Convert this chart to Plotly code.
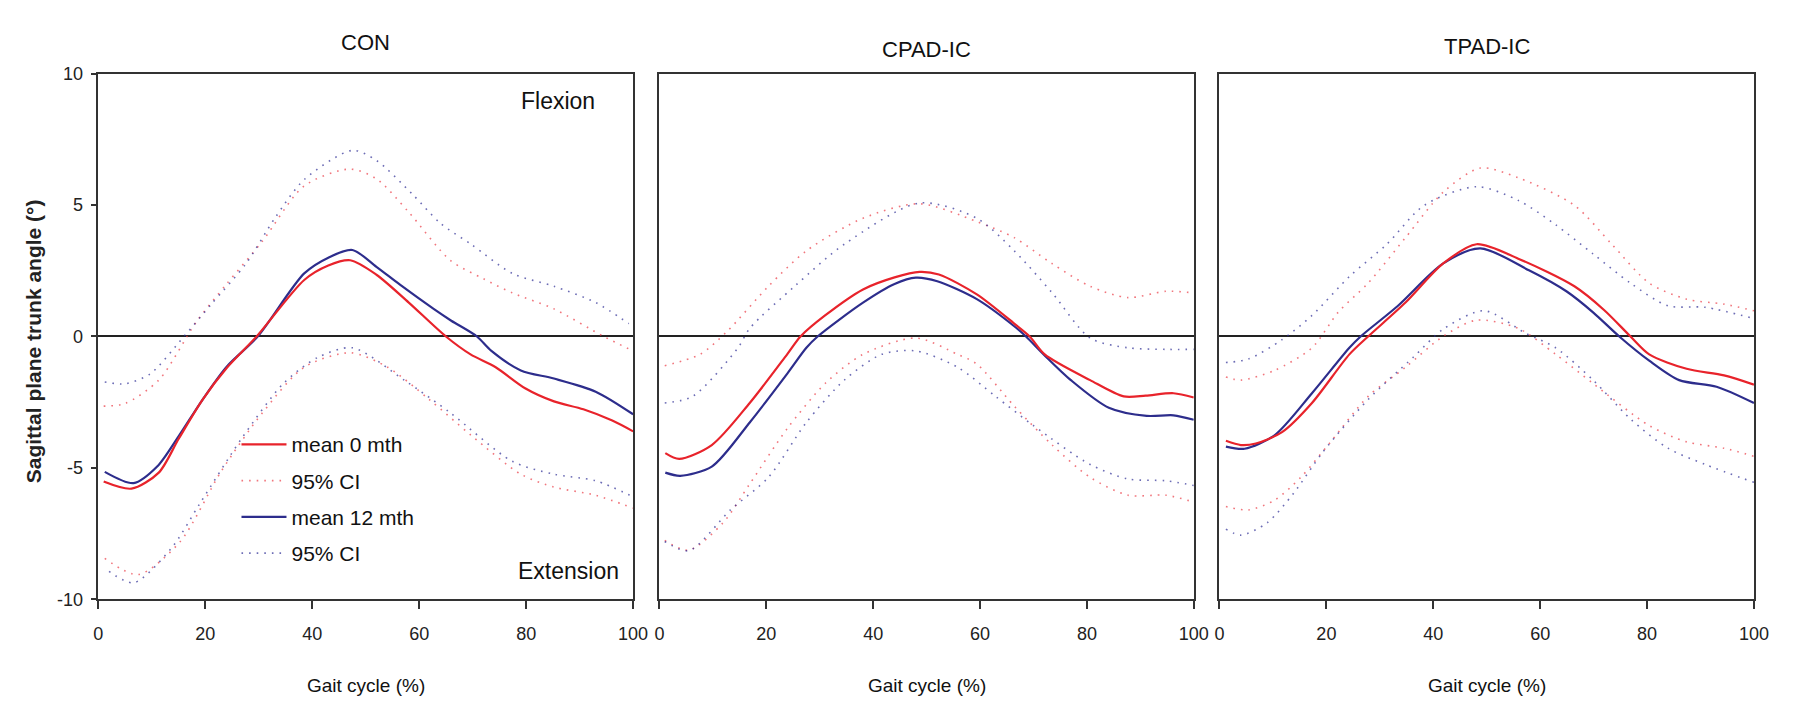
import plotly.graph_objects as go

# ---------------- data ----------------
panels = ["CON", "CPAD-IC", "TPAD-IC"]
x_ticks = [0, 20, 40, 60, 80, 100]
y_ticks = [10, 5, 0, -5, -10]
y_ticklabels = ["10", "5", "0", "-5", "-10"]

# CON
con_m0_x = [1, 6.2, 11.3, 15, 19.5, 24, 29.6, 38.5, 43, 47.1, 52, 58, 65, 69.6, 74.3, 79.8, 85.2, 90.7, 96.1, 100]
con_m0_y = [-5.52, -5.79, -5.18, -3.9, -2.4, -1.2, 0, 2.15, 2.7, 2.9, 2.35, 1.3, 0, -0.68, -1.17, -1.97, -2.47, -2.77, -3.2, -3.61]
con_m12_x = [1.2, 6.6, 11, 15, 19.5, 24, 29.8, 38.5, 43, 47.5, 52, 56.4, 62.7, 66, 70.8, 73.5, 79, 85.2, 93, 100]
con_m12_y = [-5.15, -5.58, -4.95, -3.8, -2.4, -1.15, 0, 2.4, 3.0, 3.29, 2.65, 1.97, 1.05, 0.6, 0, -0.55, -1.29, -1.6, -2.1, -2.96]
con_ci0_up_x = [1, 5, 11.3, 18.3, 24, 30.7, 38.5, 47, 52, 58, 65.8, 72, 77.4, 85.2, 94.5, 100]
con_ci0_up_y = [-2.65, -2.55, -1.66, 0.55, 2.0, 3.63, 5.73, 6.37, 6.0, 4.74, 2.9, 2.2, 1.66, 1.05, 0, -0.55]
con_ci0_lo_x = [1.2, 7.4, 15.2, 23, 30.7, 38.5, 47.1, 54.1, 61.9, 69.7, 79, 85.2, 93, 100]
con_ci0_lo_y = [-8.44, -9.06, -7.83, -5.12, -2.9, -1.17, -0.62, -1.17, -2.4, -3.76, -5.24, -5.73, -6.04, -6.53]
con_ci12_up_x = [1.2, 5, 9.7, 16, 21, 27.6, 33, 38.5, 47.5, 52, 58.7, 64, 69.7, 77.4, 85.2, 93, 99.2]
con_ci12_up_y = [-1.73, -1.8, -1.42, 0, 1.2, 2.77, 4.5, 5.97, 7.08, 6.7, 5.42, 4.3, 3.51, 2.4, 1.91, 1.29, 0.49]
con_ci12_lo_x = [2, 6.6, 13.6, 19, 26.8, 34.6, 41, 47.5, 57.2, 65.8, 77.4, 85.2, 93, 100]
con_ci12_lo_y = [-8.94, -9.37, -8.07, -6.35, -3.88, -1.79, -0.8, -0.43, -1.66, -2.9, -4.75, -5.24, -5.49, -6.1]

# CPAD-IC
cpad_m0_x = [1.1, 3.7, 9.8, 16.9, 23.9, 26.4, 31, 38.1, 44, 48.7, 52.3, 59.4, 66.4, 69.3, 72.1, 80.6, 86.9, 91, 96.2, 100]
cpad_m0_y = [-4.44, -4.66, -4.13, -2.53, -0.68, 0, 0.8, 1.79, 2.25, 2.46, 2.36, 1.6, 0.49, 0, -0.68, -1.66, -2.28, -2.25, -2.16, -2.32]
cpad_m12_x = [1.1, 3.9, 9.8, 16.9, 23.9, 27.5, 29.6, 38.1, 44, 48, 52, 59.4, 66.4, 68.6, 72, 77, 84.1, 91.2, 96.2, 100]
cpad_m12_y = [-5.18, -5.3, -4.95, -3.27, -1.42, -0.43, 0, 1.29, 2.0, 2.24, 2.1, 1.42, 0.39, 0, -0.7, -1.66, -2.71, -3.02, -3.0, -3.17]
cpad_ci0_up_x = [1, 7.6, 12.6, 20.4, 27.5, 38.1, 48.7, 59.4, 66.4, 73.5, 80.6, 87.7, 94.8, 100]
cpad_ci0_up_y = [-1.11, -0.68, 0.18, 1.91, 3.26, 4.5, 5.05, 4.37, 3.76, 2.77, 1.91, 1.48, 1.72, 1.66]
cpad_ci0_lo_x = [1, 5.5, 11.9, 16.9, 23.9, 31, 38.1, 48, 55.8, 59.4, 66.4, 73.5, 80.6, 87.7, 94.8, 100]
cpad_ci0_lo_y = [-7.76, -8.13, -7.09, -5.61, -3.51, -1.79, -0.68, -0.06, -0.68, -1.05, -2.65, -4.13, -5.36, -6.04, -6.04, -6.3]
cpad_ci12_up_x = [1, 6.2, 14.7, 16.9, 25.3, 34.6, 48.7, 59.4, 66.4, 73.5, 80.6, 87.7, 94.8, 100]
cpad_ci12_up_y = [-2.53, -2.28, -0.43, 0.31, 1.91, 3.51, 5.08, 4.5, 3.26, 1.66, -0.06, -0.43, -0.49, -0.49]
cpad_ci12_lo_x = [1, 5.5, 13.3, 20.4, 27.5, 34.6, 41.6, 48, 55.8, 62.9, 70, 80.6, 87.7, 94.8, 100]
cpad_ci12_lo_y = [-7.8, -8.15, -6.6, -5.36, -3.27, -1.66, -0.68, -0.55, -1.17, -2.28, -3.39, -4.87, -5.42, -5.49, -5.67]

# TPAD-IC
tpad_m0_x = [1.2, 4, 6.8, 11.7, 17.3, 24.3, 27.8, 34.8, 41.8, 48.1, 55.9, 66.4, 72, 76.9, 80.4, 87.4, 94.4, 100]
tpad_m0_y = [-3.97, -4.13, -4.07, -3.64, -2.53, -0.68, 0, 1.29, 2.77, 3.51, 2.96, 1.91, 1.0, 0, -0.68, -1.23, -1.48, -1.83]
tpad_m12_x = [1.2, 4.7, 10.3, 17.3, 24.3, 26.4, 33.4, 41.8, 48.8, 57.9, 64.9, 70, 74.8, 80.4, 86, 93, 100]
tpad_m12_y = [-4.19, -4.27, -3.76, -2.16, -0.43, 0, 1.17, 2.77, 3.35, 2.52, 1.72, 0.9, 0, -0.92, -1.66, -1.91, -2.53]
tpad_ci0_up_x = [1.2, 4, 10.3, 17.3, 22.2, 27.8, 34.8, 41.8, 48.8, 55.9, 66.4, 73.4, 80.4, 87.4, 94.4, 100]
tpad_ci0_up_y = [-1.54, -1.66, -1.29, -0.43, 0.92, 2.03, 3.76, 5.48, 6.41, 6.04, 4.99, 3.51, 2.03, 1.42, 1.23, 0.98]
tpad_ci0_lo_x = [1.2, 5.4, 10.3, 15.2, 20.8, 27.8, 34.8, 41.8, 48.1, 55.9, 62.9, 69.9, 80.4, 87.4, 94.4, 100]
tpad_ci0_lo_y = [-6.47, -6.6, -6.23, -5.36, -4.01, -2.28, -1.17, 0, 0.62, 0.31, -0.68, -1.79, -3.39, -4.01, -4.25, -4.56]
tpad_ci12_up_x = [1.2, 5.4, 11.7, 17.3, 24.3, 31.3, 38.3, 48.1, 55.9, 62.9, 69.9, 76.9, 83.9, 90.9, 100]
tpad_ci12_up_y = [-0.99, -0.86, -0.12, 0.8, 2.28, 3.51, 4.99, 5.7, 5.18, 4.25, 3.14, 2.03, 1.17, 1.11, 0.68]
tpad_ci12_lo_x = [1.2, 4, 8.9, 13.8, 19.4, 27.8, 36.2, 42, 49.5, 57.3, 62.9, 69.9, 76.9, 83.9, 90.9, 100]
tpad_ci12_lo_y = [-7.33, -7.56, -7.09, -5.98, -4.38, -2.4, -0.8, 0.3, 0.98, 0.12, -0.43, -1.66, -3.14, -4.25, -4.87, -5.55]

panel_data = [
    dict(m0=(con_m0_x, con_m0_y), m12=(con_m12_x, con_m12_y),
         ci0=[(con_ci0_up_x, con_ci0_up_y), (con_ci0_lo_x, con_ci0_lo_y)],
         ci12=[(con_ci12_up_x, con_ci12_up_y), (con_ci12_lo_x, con_ci12_lo_y)]),
    dict(m0=(cpad_m0_x, cpad_m0_y), m12=(cpad_m12_x, cpad_m12_y),
         ci0=[(cpad_ci0_up_x, cpad_ci0_up_y), (cpad_ci0_lo_x, cpad_ci0_lo_y)],
         ci12=[(cpad_ci12_up_x, cpad_ci12_up_y), (cpad_ci12_lo_x, cpad_ci12_lo_y)]),
    dict(m0=(tpad_m0_x, tpad_m0_y), m12=(tpad_m12_x, tpad_m12_y),
         ci0=[(tpad_ci0_up_x, tpad_ci0_up_y), (tpad_ci0_lo_x, tpad_ci0_lo_y)],
         ci12=[(tpad_ci12_up_x, tpad_ci12_up_y), (tpad_ci12_lo_x, tpad_ci12_lo_y)]),
]

# ---------------- styling ----------------
W, H = 1794, 704
RED = "#e8232b"
BLUE = "#2d2d8c"
RED_CI = "rgba(235,60,70,0.7)"
BLUE_CI = "rgba(45,45,150,0.7)"
FONT = "Liberation Sans, Arial, sans-serif"

x_px = [(86.3, 627.1), (653.7, 1194.1), (1220.1, 1760.6)]
title_y_px = [25, 32, 29]
y_top_px, y_bot_px = 57.3, 598.3

fig = go.Figure()
for i, pdict in enumerate(panel_data):
    xa = "x" if i == 0 else f"x{i+1}"
    ya = "y" if i == 0 else f"y{i+1}"
    first = (i == 0)
    for j, (cx, cy) in enumerate(pdict["ci0"]):
        fig.add_trace(go.Scatter(x=cx, y=cy, mode="lines", xaxis=xa, yaxis=ya,
                                 line=dict(color=RED_CI, width=1.6, dash="1.6px,6px", shape="spline", smoothing=0.8),
                                 name="95% CI", legendgroup="b", legendrank=2,
                                 showlegend=first and j == 0))
    for j, (cx, cy) in enumerate(pdict["ci12"]):
        fig.add_trace(go.Scatter(x=cx, y=cy, mode="lines", xaxis=xa, yaxis=ya,
                                 line=dict(color=BLUE_CI, width=1.6, dash="1.6px,6px", shape="spline", smoothing=0.8),
                                 name="95% CI", legendgroup="d", legendrank=4,
                                 showlegend=first and j == 0))
    mx, my = pdict["m12"]
    fig.add_trace(go.Scatter(x=mx, y=my, mode="lines", xaxis=xa, yaxis=ya,
                             line=dict(color=BLUE, width=2.2, shape="spline", smoothing=0.8),
                             name="mean 12 mth", legendgroup="c", legendrank=3, showlegend=first))
    mx, my = pdict["m0"]
    fig.add_trace(go.Scatter(x=mx, y=my, mode="lines", xaxis=xa, yaxis=ya,
                             line=dict(color=RED, width=2.2, shape="spline", smoothing=0.8),
                             name="mean 0 mth", legendgroup="a", legendrank=1, showlegend=first))

layout = dict(
    width=W, height=H, margin=dict(l=0, r=0, t=0, b=0),
    paper_bgcolor="white", plot_bgcolor="white",
    font=dict(family=FONT, size=18, color="#111"),
    showlegend=True,
    legend=dict(x=226 / W, y=1 - 418 / H, xanchor="left", yanchor="top",
                font=dict(family=FONT, size=21, color="#111"),
                bgcolor="rgba(0,0,0,0)", tracegroupgap=6, itemwidth=45,
                traceorder="grouped"),
)
annotations = []
for i in range(3):
    sx = "" if i == 0 else str(i + 1)
    x0, x1 = x_px[i]
    layout[f"xaxis{sx}"] = dict(
        domain=[x0 / W, x1 / W], range=[0, 100], anchor=f"y{sx}",
        tickvals=x_ticks, ticks="outside", ticklen=8, tickwidth=1.5, tickcolor="#333",
        showline=True, linecolor="#333", linewidth=1.5, mirror=True,
        showgrid=False, zeroline=False,
        tickfont=dict(family=FONT, size=18, color="#222"), ticklabelstandoff=9,
    )
    layout[f"yaxis{sx}"] = dict(
        domain=[1 - y_bot_px / H, 1 - y_top_px / H], range=[-10, 10], anchor=f"x{sx}",
        tickvals=y_ticks, ticktext=y_ticklabels if i == 0 else [""] * 5,
        ticks="outside" if i == 0 else "", ticklen=6, tickwidth=1.5, tickcolor="#333",
        showline=True, linecolor="#333", linewidth=1.5, mirror=True,
        showgrid=False, zeroline=True, zerolinecolor="#222", zerolinewidth=1.5,
        tickfont=dict(family=FONT, size=18, color="#222"), ticklabelstandoff=4,
    )
    cx = (x0 + x1) / 2
    annotations.append(dict(text=panels[i], x=cx / W, y=1 - title_y_px[i] / H, xref="paper", yref="paper",
                            showarrow=False, xanchor="center", yanchor="middle",
                            font=dict(family=FONT, size=22, color="#111")))
    annotations.append(dict(text="Gait cycle (%)", x=cx / W, y=1 - 687 / H, xref="paper", yref="paper",
                            showarrow=False, xanchor="center", yanchor="middle",
                            font=dict(family=FONT, size=19, color="#111")))

annotations.append(dict(text="Flexion", x=591 / W, y=1 - 85 / H, xref="paper", yref="paper",
                        showarrow=False, xanchor="right", yanchor="middle",
                        font=dict(family=FONT, size=23, color="#111")))
annotations.append(dict(text="Extension", x=615 / W, y=1 - 569 / H, xref="paper", yref="paper",
                        showarrow=False, xanchor="right", yanchor="middle",
                        font=dict(family=FONT, size=23, color="#111")))
annotations.append(dict(text="<b>Sagittal plane trunk angle (°)</b>", x=21 / W, y=1 - 333 / H,
                        xref="paper", yref="paper", showarrow=False, textangle=-90,
                        xanchor="center", yanchor="middle",
                        font=dict(family=FONT, size=21, color="#222")))
layout["annotations"] = annotations
fig.update_layout(**layout)

fig.write_html("out.html")
